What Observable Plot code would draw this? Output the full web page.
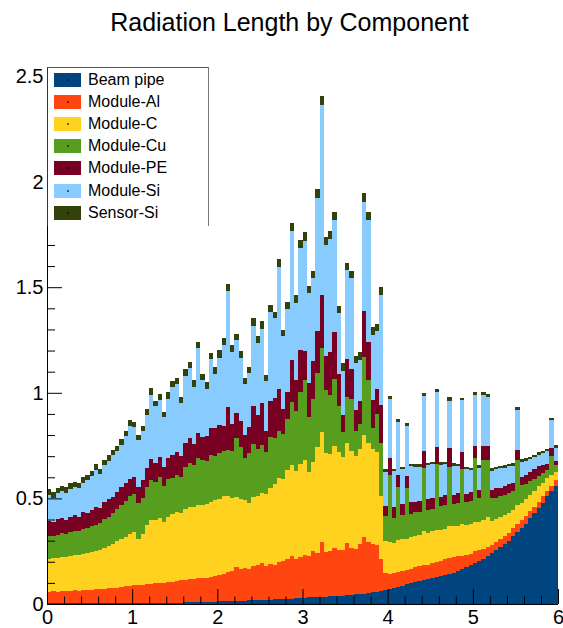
<!DOCTYPE html>
<html><head><meta charset="utf-8">
<script src="https://cdn.jsdelivr.net/npm/d3@7"></script>
<script src="https://cdn.jsdelivr.net/npm/@observablehq/plot@0.6"></script>
<style>
html,body{margin:0;padding:0;background:#fff;}
#wrap{position:relative;width:563px;height:628px;overflow:hidden;font-family:"Liberation Sans",Arial,Helvetica,sans-serif;}
#chart{position:absolute;left:0;top:0;}
#title{position:absolute;left:8px;top:10px;width:563px;text-align:center;font-size:25px;line-height:25px;color:#000;white-space:nowrap;}
#legend{position:absolute;left:47px;top:67px;width:160px;height:158px;background:#fff;border-top:1px solid #555;border-right:1px solid #777;border-left:1px solid #333;}
.item{position:absolute;left:6px;height:15px;display:flex;align-items:center;font-size:16px;color:#000;white-space:nowrap;}
.sw{width:27px;height:14px;margin-right:7px;position:relative;flex:none;}
.sw i{position:absolute;left:13px;top:6px;width:2px;height:2px;background:rgba(0,0,0,0.55);}
</style></head>
<body>
<div id="wrap">
  <div id="chart"></div>
  <div id="title">Radiation Length by Component</div>
  <div id="legend"></div>
</div>
<script>
// Components (bottom to top of the stack) and their colours
const comps = ["Beam pipe", "Module-Al", "Module-C", "Module-Cu", "Module-PE", "Module-Si", "Sensor-Si"];
const colors = ["#004580", "#ff4611", "#ffd21f", "#589e1e", "#780023", "#88ccff", "#33410a"];

// Histogram binning in eta
const etaMin = 0, etaMax = 6, nBins = 120;

// Radiation length per bin for each component
const beamPipe = [
 .004,.004,.004,.004,.004,.004,.004,.004,.004,.004,.004,.004,.004,.004,.004,.004,.004,.004,.004,.004,
 .004,.004,.004,.004,.004,.004,.004,.004,.005,.006,.007,.007,.008,.008,.009,.009,.010,.010,.011,.011,
 .012,.013,.013,.014,.015,.015,.016,.017,.018,.018,.019,.020,.021,.022,.023,.024,.025,.026,.027,.029,
 .030,.031,.032,.033,.034,.035,.036,.037,.038,.040,.041,.043,.045,.047,.049,.052,.055,.058,.062,.066,
 .072,.077,.082,.087,.093,.099,.104,.109,.114,.118,.122,.127,.132,.137,.143,.149,.156,.164,.173,.183,
 .195,.205,.215,.228,.242,.256,.270,.285,.300,.320,.340,.360,.380,.405,.430,.455,.480,.510,.535,.560];
const moduleAl = [
 .055,.056,.055,.058,.057,.058,.060,.059,.061,.062,.064,.065,.066,.068,.070,.072,.074,.077,.080,.083,
 .085,.086,.088,.090,.092,.094,.095,.096,.098,.100,.100,.105,.108,.110,.110,.112,.115,.115,.118,.120,
 .125,.130,.138,.140,.160,.150,.155,.150,.160,.165,.175,.160,.170,.165,.175,.180,.190,.200,.185,.195,
 .200,.195,.220,.210,.260,.210,.215,.230,.220,.215,.250,.220,.215,.235,.270,.240,.230,.220,.150,.080,
 .070,.072,.070,.070,.070,.068,.072,.070,.070,.068,.072,.070,.070,.075,.075,.072,.070,.065,.060,.056,
 .055,.050,.045,.042,.038,.036,.036,.035,.037,.040,.040,.038,.035,.033,.031,.030,.029,.027,.026,.025];
const moduleC = [
 .155,.158,.160,.162,.160,.165,.168,.170,.172,.175,.178,.180,.185,.195,.200,.210,.220,.228,.235,.245,
 .250,.220,.240,.280,.300,.300,.310,.290,.310,.320,.330,.320,.335,.340,.340,.350,.345,.350,.355,.360,
 .360,.370,.360,.350,.330,.330,.320,.310,.330,.330,.330,.340,.360,.380,.400,.390,.420,.430,.420,.440,
 .450,.400,.420,.500,.520,.470,.460,.480,.460,.440,.470,.460,.440,.450,.480,.470,.450,.440,.300,.150,
 .150,.140,.150,.150,.145,.150,.145,.150,.160,.150,.150,.155,.150,.145,.150,.148,.145,.150,.140,.140,
 .140,.135,.140,.140,.115,.110,.105,.100,.095,.085,.090,.080,.080,.078,.076,.072,.065,.058,.050,.042];
const moduleCu = [
 .110,.105,.110,.112,.110,.115,.113,.112,.118,.120,.122,.125,.130,.135,.140,.145,.150,.160,.170,.180,
 .180,.170,.170,.180,.190,.180,.190,.170,.180,.170,.175,.170,.200,.210,.200,.220,.210,.200,.220,.210,
 .220,.210,.220,.220,.280,.250,.200,.240,.250,.220,.230,.200,.240,.220,.220,.210,.240,.300,.280,.340,
 .380,.260,.300,.350,.400,.300,.280,.320,.220,.120,.220,.250,.120,.120,.370,.300,.100,.180,.250,.120,
 .320,.120,.250,.115,.240,.110,.115,.105,.300,.110,.105,.310,.110,.110,.280,.105,.108,.260,.110,.110,
 .300,.110,.280,.270,.105,.100,.100,.098,.095,.090,.210,.085,.075,.065,.055,.050,.045,.040,.090,.032];
const modulePE = [
 .070,.065,.072,.070,.068,.072,.075,.068,.080,.072,.078,.085,.070,.080,.085,.075,.080,.085,.085,.080,
 .080,.075,.085,.090,.100,.090,.095,.090,.100,.110,.110,.100,.110,.120,.100,.120,.110,.120,.130,.130,
 .130,.120,.200,.130,.120,.120,.110,.120,.180,.160,.200,.100,.170,.190,.200,.120,.130,.200,.150,.200,
 .140,.160,.180,.200,.250,.160,.200,.220,.150,.080,.180,.140,.100,.110,.220,.180,.130,.120,.180,.050,
 .080,.050,.060,.050,.060,.055,.045,.055,.080,.050,.055,.080,.045,.050,.090,.040,.045,.080,.040,.040,
 .060,.040,.070,.070,.040,.045,.040,.042,.040,.040,.050,.040,.040,.043,.045,.045,.040,.030,.040,.018];
const moduleSi = [
 .120,.115,.125,.130,.128,.132,.135,.135,.140,.152,.160,.175,.160,.175,.180,.200,.197,.200,.220,.250,
 .240,.220,.230,.250,.305,.270,.270,.235,.280,.320,.320,.250,.320,.330,.270,.400,.270,.225,.325,.260,
 .320,.385,.550,.340,.345,.300,.240,.255,.380,.345,.350,.235,.420,.375,.580,.345,.390,.610,.365,.480,
 .520,.425,.390,.630,.900,.525,.535,.530,.290,.210,.420,.430,.220,.195,.515,.575,.310,.275,.520,.160,
 .280,.170,.250,.165,.235,.170,.168,.160,.260,.160,.158,.260,.152,.145,.225,.140,.128,.245,.115,.105,
 .240,.105,.240,.230,.090,.090,.092,.085,.085,.080,.190,.070,.068,.062,.058,.055,.055,.058,.130,.063];
const sensorSi = [
 .030,.025,.025,.025,.025,.025,.025,.025,.025,.025,.025,.028,.025,.025,.025,.025,.025,.028,.025,.030,
 .025,.025,.025,.030,.030,.025,.030,.025,.030,.030,.030,.030,.030,.030,.030,.030,.030,.030,.030,.030,
 .035,.030,.035,.030,.030,.035,.030,.030,.035,.030,.035,.030,.035,.030,.035,.030,.035,.040,.035,.040,
 .040,.035,.035,.040,.040,.040,.040,.040,.035,.035,.035,.035,.035,.035,.040,.040,.035,.035,.040,.015,
 .015,.012,.015,.012,.012,.012,.012,.015,.015,.012,.012,.015,.012,.012,.015,.012,.012,.012,.012,.012,
 .012,.012,.012,.012,.012,.012,.012,.012,.012,.012,.012,.012,.012,.012,.012,.012,.012,.012,.012,.012];

// Axis ticks
const xMajor = [0, 1, 2, 3, 4, 5, 6];
const xMinor = [0.2,0.4,0.6,0.8,1.2,1.4,1.6,1.8,2.2,2.4,2.6,2.8,3.2,3.4,3.6,3.8,4.2,4.4,4.6,4.8,5.2,5.4,5.6,5.8];
const yMajor = [0, 0.5, 1, 1.5, 2, 2.5];
const yMinor = [0.1,0.2,0.3,0.4,0.6,0.7,0.8,0.9,1.1,1.2,1.3,1.4,1.6,1.7,1.8,1.9,2.1,2.2,2.3,2.4];

const series = [beamPipe, moduleAl, moduleC, moduleCu, modulePE, moduleSi, sensorSi];
const binW = (etaMax - etaMin) / nBins;
const rows = [];
comps.forEach((c, j) => series[j].forEach((v, i) => {
  rows.push({comp: c, x1: +(etaMin + i * binW).toFixed(4), x2: +(etaMin + (i + 1) * binW).toFixed(4), value: v});
}));

const chart = Plot.plot({
  width: 563, height: 628,
  marginTop: 76, marginBottom: 24, marginLeft: 47, marginRight: 5,
  x: {domain: [etaMin, etaMax], label: null},
  y: {domain: [0, 2.5], label: null},
  color: {domain: comps, range: colors},
  style: {fontFamily: '"Liberation Sans", Arial, Helvetica, sans-serif', background: "transparent", color: "#000"},
  marks: [
    Plot.rectY(rows, {x1: "x1", x2: "x2", y: "value", fill: "comp", z: "comp", order: comps, shapeRendering: "crispEdges"}),
    Plot.ruleY([0], {stroke: "#000"}),
    Plot.ruleX([0], {stroke: "#000"}),
    Plot.axisX({ticks: xMajor, tickSize: -15, tickPadding: 20, fontSize: 20, tickFormat: d => String(d), label: null}),
    Plot.axisX({ticks: xMinor, tickSize: -7.5, tickPadding: 0, tickFormat: () => "", label: null}),
    Plot.axisY({ticks: yMajor, tickSize: -15, tickPadding: 19, fontSize: 20, tickFormat: d => String(d), label: null}),
    Plot.axisY({ticks: yMinor, tickSize: -8, tickPadding: 0, tickFormat: () => "", label: null})
  ]
});
document.getElementById("chart").appendChild(chart);

// Legend
const legend = document.getElementById("legend");
comps.forEach((c, i) => {
  const item = document.createElement("div");
  item.className = "item";
  item.style.top = (4 + 22.2 * i) + "px";
  const sw = document.createElement("span");
  sw.className = "sw";
  sw.style.background = colors[i];
  sw.appendChild(document.createElement("i"));
  const t = document.createElement("span");
  t.textContent = c;
  item.appendChild(sw);
  item.appendChild(t);
  legend.appendChild(item);
});
</script>
</body></html>
